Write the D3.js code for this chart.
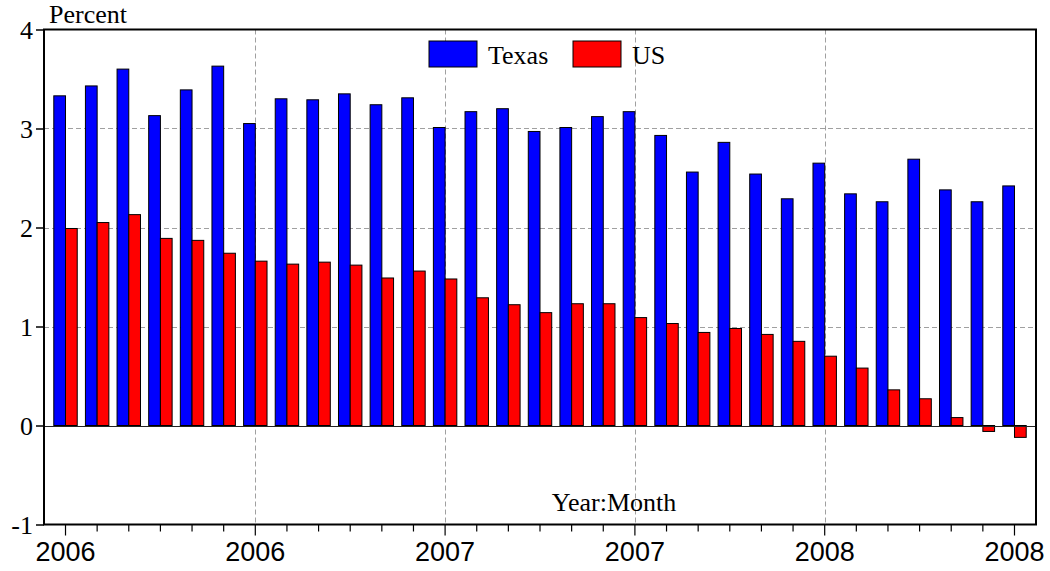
<!DOCTYPE html>
<html><head><meta charset="utf-8">
<script src="https://cdn.jsdelivr.net/npm/d3@7"></script>
<style>body{margin:0;background:#fff}svg{display:block}</style>
</head><body><svg id="c" width="1050" height="571"></svg>
<script>
const months = d3.range(31).map(i => { const y = 2006 + Math.floor(i/12), m = i%12+1; return y + "M" + (m<10?"0":"") + m; });
const seriesNames = ["Texas","US"];
const texas = [3.33,3.43,3.60,3.13,3.39,3.63,3.05,3.30,3.29,3.35,3.24,3.31,3.01,3.17,3.20,2.97,3.01,3.12,3.17,2.93,2.56,2.86,2.54,2.29,2.65,2.34,2.26,2.69,2.38,2.26,2.42];
const us = [1.99,2.05,2.13,1.89,1.87,1.74,1.66,1.63,1.65,1.62,1.49,1.56,1.48,1.29,1.22,1.14,1.23,1.23,1.09,1.03,0.94,0.98,0.92,0.85,0.70,0.58,0.36,0.27,0.08,-0.06,-0.12];
const yTicks = [-1,0,1,2,3,4];
const majorIdx = [0,6,12,18,24,30];
const gridIdx = [6,12,18,24];
const colors = {Texas:"#0000ff", US:"#ff0000"};

const svg = d3.select("#c");
const L=44, R=1036, T=29.5, B=524.5;
const x = d3.scaleBand().domain(months).range([L,R]).paddingInner(0).paddingOuter(0.18);
const xs = d3.scaleBand().domain(seriesNames).range([0,x.bandwidth()]).paddingInner(0).paddingOuter(0.35);
const y = d3.scaleLinear().domain([-1,4]).range([B,T]);
const cx = m => x(m) + x.bandwidth()/2;

// grid
const g = svg.append("g");
g.selectAll("line.hg").data([1,2,3]).join("line")
  .attr("x1",L).attr("x2",R).attr("y1",d=>Math.round(y(d))+0.5).attr("y2",d=>Math.round(y(d))+0.5)
  .attr("stroke","#a0a0a0").attr("stroke-dasharray","5,3");
g.selectAll("line.vg").data(gridIdx).join("line")
  .attr("x1",d=>Math.round(cx(months[d]))+0.5).attr("x2",d=>Math.round(cx(months[d]))+0.5)
  .attr("y1",T).attr("y2",B).attr("stroke","#a0a0a0").attr("stroke-dasharray","5,3");

// bars
const data = [];
months.forEach((m,i)=>{ data.push({m,s:"Texas",v:texas[i]}); data.push({m,s:"US",v:us[i]}); });
svg.append("g").selectAll("rect").data(data).join("rect")
  .attr("x",d=>x(d.m)+xs(d.s)).attr("width",xs.bandwidth())
  .attr("y",d=>y(Math.max(0,d.v))).attr("height",d=>Math.abs(y(d.v)-y(0)))
  .attr("fill",d=>colors[d.s]).attr("stroke","#000").attr("stroke-width",1);

// zero line
svg.append("line").attr("x1",L).attr("x2",R).attr("y1",Math.round(y(0))+0.5).attr("y2",Math.round(y(0))+0.5)
  .attr("stroke","#222").attr("stroke-width",1);

// frame
svg.append("rect").attr("x",L).attr("y",T).attr("width",R-L).attr("height",B-T)
  .attr("fill","none").attr("stroke","#000").attr("stroke-width",2);

// y axis
const ya = svg.append("g").attr("transform",`translate(${L},0)`)
  .call(d3.axisLeft(y).tickValues(yTicks).tickSize(8).tickFormat(d => String(d)));
ya.select(".domain").remove();
ya.selectAll("line").attr("stroke","#000").attr("stroke-width",1.5);
ya.selectAll("text").attr("font-family","'Liberation Serif','Times New Roman',serif").attr("font-size",26).attr("fill","#000")
  .attr("x",-11).attr("dy","0.33em");

// x axis
const xa = svg.append("g").attr("transform",`translate(0,${B})`)
  .call(d3.axisBottom(x).tickValues(months).tickSize(7).tickFormat((d,i)=>""));
xa.select(".domain").remove();
xa.selectAll("line").attr("stroke","#000").attr("stroke-width",1.2)
  .attr("y2",(d)=> majorIdx.includes(months.indexOf(d)) ? 11 : 7);
svg.append("g").selectAll("text").data(majorIdx).join("text")
  .attr("x",d=>cx(months[d])).attr("y",561).attr("text-anchor","middle")
  .attr("font-family","'Liberation Sans',Arial,sans-serif").attr("font-size",27)
  .text(d=>months[d].slice(0,4));

// titles
const serif = "'Liberation Serif','Times New Roman',serif";
svg.append("text").attr("x",49).attr("y",23).attr("font-family",serif).attr("font-size",26).text("Percent");
svg.append("text").attr("x",614).attr("y",511).attr("text-anchor","middle").attr("font-family",serif).attr("font-size",26).text("Year:Month");

// legend
const leg = [{s:"Texas",x:429},{s:"US",x:573}];
const lg = svg.append("g").selectAll("g").data(leg).join("g");
lg.append("rect").attr("x",d=>d.x).attr("y",41).attr("width",48).attr("height",26)
  .attr("fill",d=>colors[d.s]).attr("stroke","#000").attr("stroke-width",1);
lg.append("text").attr("x",d=>d.x+59).attr("y",64).attr("font-family",serif).attr("font-size",26).text(d=>d.s);
</script></body></html>
